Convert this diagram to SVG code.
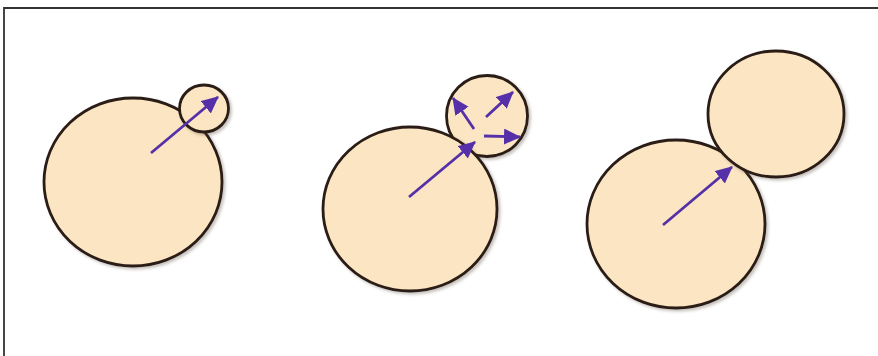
<svg xmlns="http://www.w3.org/2000/svg" width="878" height="356" viewBox="0 0 878 356">
<style>
.cell{fill:#fce5c2;stroke:#2b1d14;stroke-width:2.8;filter:url(#sh)}
.arr{stroke:#5530a8;stroke-width:2.8;fill:none;marker-end:url(#ah)}
</style>
<defs>
<filter id="sh" x="-10%" y="-10%" width="125%" height="125%">
<feDropShadow dx="2" dy="2" stdDeviation="1.5" flood-color="#5a4a3a" flood-opacity="0.35"/>
</filter>
<marker id="ah" markerUnits="userSpaceOnUse" markerWidth="20" markerHeight="18" refX="16" refY="8" orient="auto">
<path d="M0,0 L17,8 L0,16 Z" fill="#5530a8"/>
</marker>
</defs>
<rect width="878" height="356" fill="#ffffff"/>
<path d="M4,356 V8 H878" fill="none" stroke="#333" stroke-width="1.8"/>
<g id="stage1">
<ellipse class="cell" cx="133" cy="182" rx="89" ry="84"/>
<ellipse class="cell" cx="204" cy="108.5" rx="24.5" ry="23.5"/>
</g>
<g id="stage2">
<circle class="cell" cx="487" cy="116" r="40.5"/>
<ellipse class="cell" cx="410" cy="209" rx="87" ry="82"/>
</g>
<g id="stage3">
<ellipse class="cell" cx="676" cy="224" rx="89" ry="84"/>
<ellipse class="cell" cx="776" cy="114" rx="68" ry="63"/>
</g>
<g id="connectors">
<line class="arr" x1="151" y1="153" x2="218" y2="97"/>
<line class="arr" x1="409" y1="197" x2="475" y2="142"/>
<line class="arr" x1="474" y1="129" x2="453" y2="98"/>
<line class="arr" x1="486" y1="117" x2="513" y2="92"/>
<line class="arr" x1="484" y1="136" x2="520" y2="137"/>
<line class="arr" x1="663" y1="225" x2="732" y2="167"/>
</g>
</svg>
